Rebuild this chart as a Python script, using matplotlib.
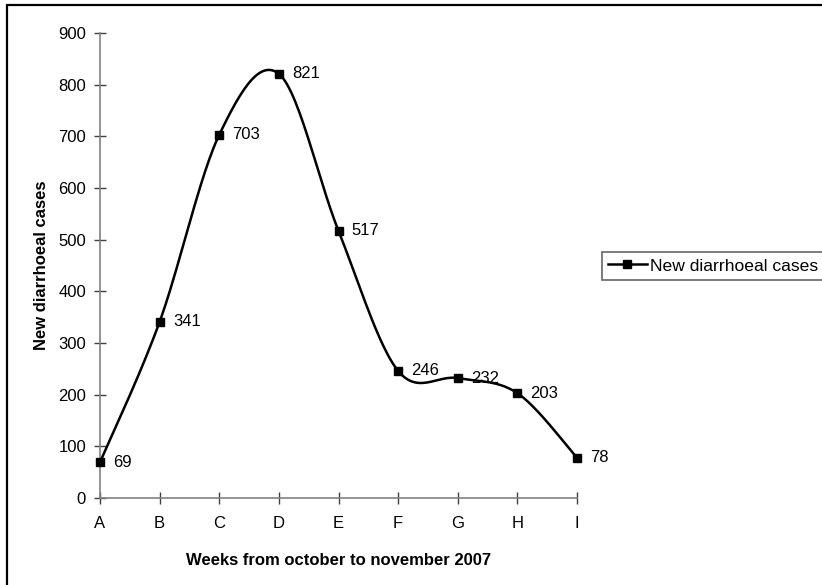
import numpy as np
import matplotlib.pyplot as plt
from matplotlib.patches import Rectangle
from matplotlib.lines import Line2D

plt.rcParams['font.family'] = ['Liberation Sans', 'DejaVu Sans']

weeks = ['A', 'B', 'C', 'D', 'E', 'F', 'G', 'H', 'I']
cases = [69, 341, 703, 821, 517, 246, 232, 203, 78]


def smooth_curve(xs, ys, n=30):
    # Bezier segments with Catmull-Rom style control points
    xs = np.asarray(xs, float)
    ys = np.asarray(ys, float)
    pts = np.column_stack([xs, ys])
    out = []
    for i in range(len(pts) - 1):
        p0 = pts[i - 1] if i > 0 else pts[i]
        p1 = pts[i]
        p2 = pts[i + 1]
        p3 = pts[i + 2] if i + 2 < len(pts) else pts[i + 1]
        c1 = p1 + (p2 - p0) / 6.0
        c2 = p2 - (p3 - p1) / 6.0
        t = np.linspace(0, 1, n)[:, None]
        seg = ((1 - t) ** 3) * p1 + 3 * ((1 - t) ** 2) * t * c1 + 3 * (1 - t) * t ** 2 * c2 + t ** 3 * p2
        out.append(seg if i == 0 else seg[1:])
    seg = np.vstack(out)
    return seg[:, 0], seg[:, 1]


W, H = 822, 585
fig = plt.figure(figsize=(W / 100, H / 100), dpi=100)
ax = fig.add_axes([100 / W, 1 - 498 / H, 477 / W, 465 / H])

# outer chart border, running off the right and bottom edges
fig.patches.append(Rectangle((7 / W, -0.1), 1.2, (1 - 5.5 / H) + 0.1, transform=fig.transFigure,
                             fill=False, edgecolor='black', linewidth=1.6, zorder=0))

x = np.arange(len(weeks))
sx, sy = smooth_curve(x, cases)
ax.plot(sx, sy, color='black', linewidth=1.8, clip_on=False, zorder=3)
ax.plot(x, cases, linestyle='none', marker='s', markersize=6, color='black', clip_on=False, zorder=4)

for xi, v in zip(x, cases):
    ax.annotate(str(v), (xi, v), xytext=(9.5, 0), textcoords='offset points',
                ha='left', va='center', fontsize=12)

ax.set_xlim(0, 8)
ax.set_ylim(0, 900)
ax.set_xticks(x)
ax.set_xticklabels(weeks)
ax.set_yticks(np.arange(0, 901, 100))

for side in ['top', 'right']:
    ax.spines[side].set_visible(False)
for side in ['left', 'bottom']:
    ax.spines[side].set_color('#808080')
    ax.spines[side].set_linewidth(1.2)
ax.tick_params(direction='inout', length=8, width=1, color='#404040', labelsize=12)
ax.tick_params(axis='x', pad=9)
ax.tick_params(axis='y', pad=6)

ax.set_xlabel('Weeks from october to november 2007', fontsize=12, fontweight='bold', labelpad=16)
ax.set_ylabel('New diarrhoeal cases', fontsize=12, fontweight='bold', labelpad=7)

handle = Line2D([], [], color='black', linewidth=1.8, marker='s', markersize=6)
leg = fig.legend([handle], ['New diarrhoeal cases'], loc='center left',
                 bbox_to_anchor=(602 / W, 1 - 266 / H), frameon=True, fancybox=False,
                 fontsize=12.6, handlelength=2.2, handletextpad=0.2, borderpad=0.35,
                 borderaxespad=0)
leg.get_frame().set_edgecolor('#404040')
leg.get_frame().set_linewidth(1.2)

fig.savefig('out.png', dpi=100)
